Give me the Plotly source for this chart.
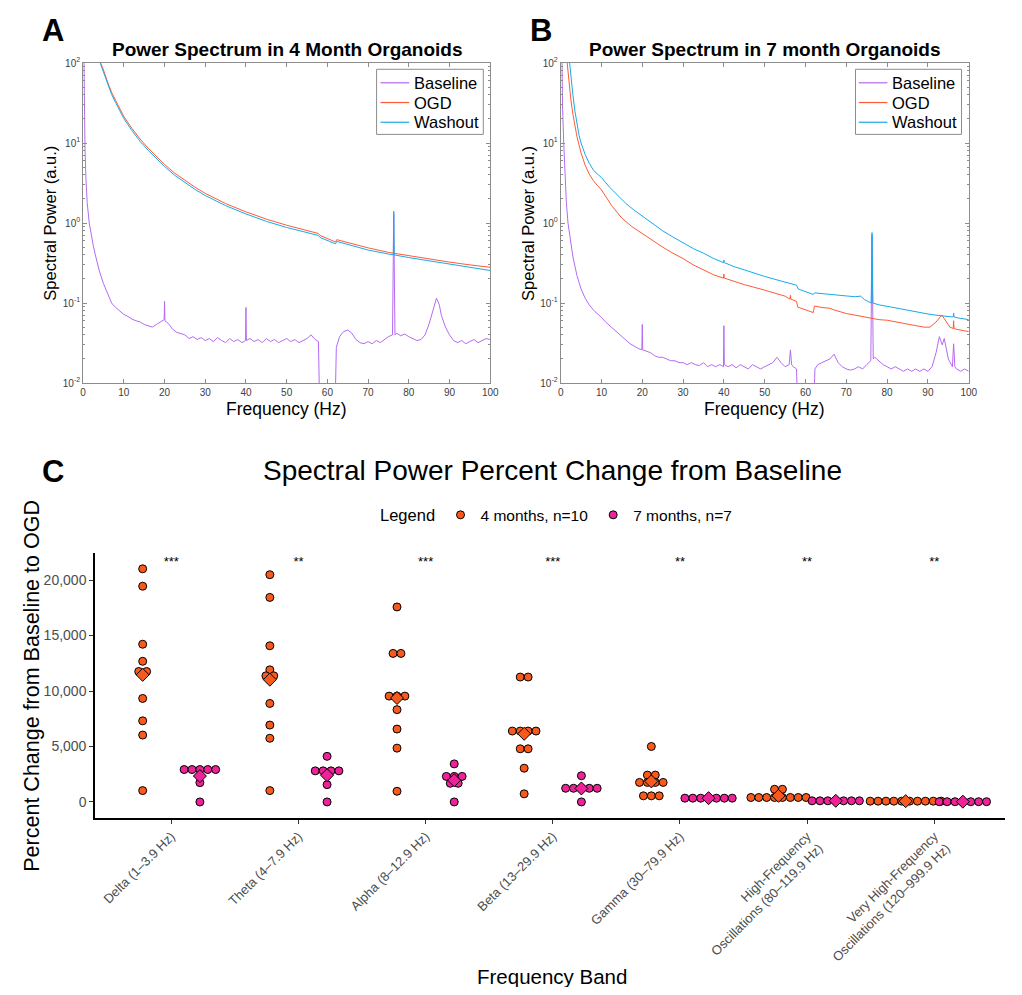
import numpy as np
import plotly.graph_objects as go

# ---------------- panel A : 4 month organoids ----------------
freq_a_base = [0.2, 0.3, 0.45, 0.7, 1.0, 1.5, 2.0, 2.5, 3, 4, 5, 6, 7, 8, 9, 10, 11, 12, 13, 14, 15, 16, 17, 18, 19,
               19.9, 20, 20.1, 21, 22, 23, 24, 25, 26, 27, 28, 29, 30, 31, 32, 33, 34, 35, 36, 37, 38, 39, 39.9, 40,
               40.1, 41, 42, 43, 44, 45, 46, 47, 48, 49, 50, 51, 52, 53, 54, 55, 56, 57, 57.8, 58.1, 61.9, 62.2,
               63, 64, 65, 66, 67, 68, 69, 70, 71, 72, 73, 74, 75, 76, 76.3, 76.6, 77, 78, 79, 80, 81, 82, 83, 84,
               85, 86, 86.8, 87.5, 88, 89, 90, 91, 92, 93, 94, 95, 96, 97, 98, 99, 100]
pow_a_base = [120, 30, 9, 3.5, 1.8, 1.0, 0.7, 0.52, 0.40, 0.25, 0.175, 0.13, 0.10, 0.088, 0.079, 0.072, 0.068, 0.063,
              0.060, 0.058, 0.054, 0.052, 0.050, 0.054, 0.058, 0.062, 0.105, 0.060, 0.055, 0.047, 0.043, 0.041,
              0.040, 0.036, 0.038, 0.035, 0.037, 0.034, 0.036, 0.033, 0.037, 0.034, 0.032, 0.036, 0.033, 0.035,
              0.032, 0.034, 0.088, 0.034, 0.036, 0.033, 0.035, 0.032, 0.036, 0.033, 0.035, 0.032, 0.034, 0.036,
              0.033, 0.035, 0.032, 0.034, 0.036, 0.040, 0.035, 0.033, 0.005, 0.005, 0.028, 0.038, 0.044, 0.046,
              0.042, 0.035, 0.032, 0.031, 0.033, 0.031, 0.034, 0.032, 0.035, 0.038, 0.040, 1.3, 0.040, 0.042,
              0.039, 0.041, 0.038, 0.036, 0.034, 0.035, 0.040, 0.055, 0.085, 0.115, 0.095, 0.070, 0.050, 0.040,
              0.034, 0.032, 0.034, 0.031, 0.033, 0.035, 0.032, 0.034, 0.036, 0.035]

freq_a_ogd = [4.3, 5, 6, 7, 8, 9, 10, 12, 14, 16, 18, 20, 22.5, 25, 27.5, 30, 35, 40, 45, 50, 55, 57.8, 58.2, 62,
              62.3, 65, 70, 75, 80, 85, 90, 95, 100]
pow_a_ogd = [100, 82, 58, 43, 34, 27, 21.5, 15.2, 11.2, 8.6, 6.8, 5.4, 4.2, 3.4, 2.8, 2.35, 1.75, 1.38, 1.12, 0.94,
             0.80, 0.74, 0.70, 0.58, 0.62, 0.57, 0.49, 0.43, 0.39, 0.355, 0.325, 0.30, 0.28]

freq_a_wash = [4.2, 5, 6, 7, 8, 9, 10, 12, 14, 16, 18, 20, 22.5, 25, 27.5, 30, 35, 40, 45, 50, 55, 57.8, 58.2, 62,
               62.3, 65, 70, 75, 76.2, 76.3, 76.4, 80, 85, 90, 95, 100]
pow_a_wash = [100, 77, 54.5, 40.4, 32, 25.4, 20.2, 14.3, 10.5, 8.1, 6.4, 5.1, 3.95, 3.2, 2.63, 2.21, 1.65, 1.30,
              1.05, 0.88, 0.75, 0.70, 0.66, 0.55, 0.59, 0.54, 0.46, 0.41, 0.40, 1.4, 0.40, 0.37, 0.335, 0.305,
              0.28, 0.255]

# ---------------- panel B : 7 month organoids ----------------
freq_b_base = [0.3, 0.45, 0.75, 1.0, 1.4, 1.8, 2.5, 3, 4, 5, 6, 7, 8, 9, 10, 11, 12, 13, 14, 15, 16, 17, 18, 19,
               19.9, 20, 20.1, 21, 22, 23, 24, 25, 26, 27, 28, 29, 30, 31, 32, 33, 34, 35, 36, 37, 38, 39, 39.9,
               40, 40.1, 41, 42, 43, 44, 45, 46, 47, 48, 49, 50, 51, 52, 53, 54, 55, 56, 56.3, 56.6, 57, 57.8,
               58.1, 62, 62.3, 63, 64, 65, 66, 67, 68, 69, 70, 71, 72, 73, 74, 75, 76, 76.3, 76.6, 77, 78, 79,
               80, 81, 82, 83, 84, 85, 86, 87, 88, 89, 90, 91, 92, 92.8, 93.5, 94, 95, 96, 96.3, 96.6, 97, 98,
               99, 100]
pow_b_base = [150, 30, 10, 4.5, 1.8, 1.0, 0.55, 0.38, 0.22, 0.15, 0.115, 0.095, 0.082, 0.074, 0.066, 0.058, 0.052,
              0.047, 0.042, 0.038, 0.034, 0.031, 0.029, 0.027, 0.026, 0.054, 0.026, 0.025, 0.024, 0.022, 0.021,
              0.021, 0.020, 0.019, 0.019, 0.018, 0.018, 0.017, 0.018, 0.017, 0.0165, 0.018, 0.016, 0.017, 0.016,
              0.017, 0.016, 0.052, 0.017, 0.016, 0.017, 0.0155, 0.017, 0.016, 0.015, 0.017, 0.016, 0.015, 0.016,
              0.017, 0.018, 0.021, 0.018, 0.016, 0.017, 0.026, 0.017, 0.016, 0.015, 0.004, 0.004, 0.015, 0.017,
              0.018, 0.019, 0.020, 0.023, 0.018, 0.016, 0.015, 0.0145, 0.015, 0.016, 0.015, 0.017, 0.019, 0.70,
              0.020, 0.021, 0.019, 0.017, 0.016, 0.015, 0.016, 0.015, 0.014, 0.015, 0.014, 0.015, 0.014, 0.015,
              0.014, 0.016, 0.024, 0.038, 0.030, 0.036, 0.020, 0.016, 0.031, 0.016, 0.015, 0.014, 0.015, 0.014]

freq_b_ogd = [1.6, 2, 2.5, 3, 3.5, 4, 5, 6, 7, 8, 9, 10, 12.5, 15, 17.5, 20, 22.5, 25, 27.5, 30, 32.5, 35, 37.5,
              39.9, 40, 40.1, 45, 50, 55, 56.2, 56.3, 56.4, 57.8, 58.1, 61.9, 62.2, 64, 66, 67, 70, 72, 75, 78,
              80, 82.5, 85, 87.5, 89, 90.5, 92, 93.4, 94, 95.4, 96.2, 96.3, 96.4, 97, 100]
pow_b_ogd = [100, 58, 35, 23, 16.5, 12, 7.5, 5.3, 4.1, 3.4, 2.95, 2.6, 1.65, 1.15, 0.90, 0.74, 0.60, 0.50, 0.42,
             0.36, 0.30, 0.26, 0.225, 0.205, 0.23, 0.205, 0.17, 0.145, 0.122, 0.112, 0.125, 0.112, 0.105, 0.089,
             0.076, 0.092, 0.088, 0.086, 0.082, 0.074, 0.071, 0.066, 0.062, 0.061, 0.058, 0.055, 0.052, 0.050,
             0.050, 0.058, 0.071, 0.064, 0.050, 0.048, 0.060, 0.048, 0.047, 0.044]

freq_b_wash = [2.2, 2.6, 3, 3.5, 4, 4.5, 5, 6, 7, 8, 9, 10, 12, 14, 16, 18, 20, 22.5, 25, 27.5, 30, 32.5, 35, 37.5,
               39.9, 40, 40.1, 42.5, 45, 47.5, 50, 52.5, 55, 57.8, 58.2, 61.9, 62.2, 65, 68, 70, 72, 73.5, 74.5,
               76.1, 76.3, 76.5, 78, 80, 82.5, 85, 87.5, 90, 92.5, 95, 96.2, 96.3, 96.4, 97.5, 100]
pow_b_wash = [100, 60, 40, 25, 17, 12.5, 10, 7.2, 5.6, 4.6, 4.1, 3.7, 2.8, 2.2, 1.75, 1.45, 1.22, 0.98, 0.80, 0.67,
              0.57, 0.48, 0.42, 0.36, 0.32, 0.345, 0.32, 0.285, 0.26, 0.235, 0.215, 0.198, 0.183, 0.167, 0.150,
              0.128, 0.134, 0.130, 0.124, 0.121, 0.120, 0.122, 0.110, 0.100, 0.76, 0.100, 0.095, 0.091, 0.086,
              0.080, 0.076, 0.073, 0.070, 0.068, 0.067, 0.075, 0.067, 0.065, 0.062]

# ---------------- panel C : percent change from baseline ----------------
bands = ["Delta (1–3.9 Hz)", "Theta (4–7.9 Hz)", "Alpha (8–12.9 Hz)", "Beta (13–29.9 Hz)",
         "Gamma (30–79.9 Hz)", "High-Frequency<br>Oscillations (80–119.9 Hz)",
         "Very High-Frequency<br>Oscillations (120–999.9 Hz)"]
stars = ["***", "**", "***", "***", "**", "**", "**"]

delta_4m = [21020, 19450, 14220, 12680, 11760, 11760, 9330, 7310, 6030, 1020]
theta_4m = [20490, 18440, 14080, 11910, 11370, 11370, 8880, 6930, 5740, 1020]
alpha_4m = [17580, 13390, 13390, 9540, 9540, 9540, 8320, 6570, 4850, 960]
beta_4m = [11260, 11260, 6390, 6390, 6390, 6390, 4790, 4790, 3040, 730]
gamma_4m = [5000, 2420, 2420, 1760, 1760, 1760, 1760, 550, 550, 550]
hfo_4m = [1140, 1140, 400, 400, 400, 400, 400, 400, 400, 400]
vhfo_4m = [70, 70, 70, 70, 70, 70, 70, 70, 70, 70]

delta_7m = [2920, 2920, 2920, 2920, 2920, 1740, 0]
theta_7m = [4110, 2800, 2800, 2800, 2800, 1560, 0]
alpha_7m = [3430, 2300, 2300, 2300, 1680, 1680, 0]
beta_7m = [2360, 1230, 1230, 1230, 1230, 1230, 0]
gamma_7m = [340, 340, 340, 340, 340, 340, 340]
hfo_7m = [100, 100, 100, 100, 100, 100, 100]
vhfo_7m = [20, 20, 20, 20, 20, 20, 20]

groups_4m = [delta_4m, theta_4m, alpha_4m, beta_4m, gamma_4m, hfo_4m, vhfo_4m]
groups_7m = [delta_7m, theta_7m, alpha_7m, beta_7m, gamma_7m, hfo_7m, vhfo_7m]

FONT = "Liberation Sans, Arial, Helvetica, sans-serif"
c_base, c_ogd, c_wash = "#B36BF2", "#FF5A36", "#18A9E8"
c_4m, c_7m = "#F85A1E", "#EE2399"
# page body keeps its 8px margin, so the figure is made 16px smaller than the window
PAD = 8
W, H = 1022 - 2 * PAD, 995 - 2 * PAD


def px_x(p):
    return min(max((p - PAD) / W, 0), 1)


def px_y(p):
    return min(max(1 - (p - PAD) / H, 0), 1)


def swarm(vals, center, step=0.062):
    # spread tied values side by side, like a beeswarm
    vals = np.asarray(vals)
    xs = np.zeros(len(vals))
    for v in np.unique(vals):
        idx = np.where(vals == v)[0]
        xs[idx] = center + (np.arange(len(idx)) - (len(idx) - 1) / 2) * step
    return xs


fig = go.Figure()

# spectra
spectra = [
    (freq_a_base, pow_a_base, "Baseline", c_base, "x", "y"),
    (freq_a_ogd, pow_a_ogd, "OGD", c_ogd, "x", "y"),
    (freq_a_wash, pow_a_wash, "Washout", c_wash, "x", "y"),
    (freq_b_base, pow_b_base, "Baseline", c_base, "x2", "y2"),
    (freq_b_ogd, pow_b_ogd, "OGD", c_ogd, "x2", "y2"),
    (freq_b_wash, pow_b_wash, "Washout", c_wash, "x2", "y2"),
]
for f, p, name, col, xa, ya in spectra:
    fig.add_trace(go.Scatter(x=f, y=p, mode="lines", name=name, line=dict(color=col, width=1),
                             xaxis=xa, yaxis=ya, showlegend=False))

# dot plot
for groups, col, off, name in [(groups_4m, c_4m, -0.225, "4 months, n=10"),
                               (groups_7m, c_7m, 0.225, "7 months, n=7")]:
    xs, ys = [], []
    for i, g in enumerate(groups):
        xs.extend(swarm(g, i + off))
        ys.extend(g)
    fig.add_trace(go.Scatter(x=xs, y=ys, mode="markers", name=name, xaxis="x3", yaxis="y3",
                             marker=dict(size=8, color=col, line=dict(color="black", width=1))))

for groups, col, off in [(groups_4m, c_4m, -0.225), (groups_7m, c_7m, 0.225)]:
    fig.add_trace(go.Scatter(x=[i + off for i in range(len(groups))], y=[np.mean(g) for g in groups],
                             mode="markers", showlegend=False, xaxis="x3", yaxis="y3",
                             marker=dict(symbol="diamond", size=10, color=col,
                                         line=dict(color="black", width=1))))

fig.add_trace(go.Scatter(x=list(range(len(bands))), y=[21600] * len(bands), mode="text", text=stars,
                         textfont=dict(size=13, color="black", family=FONT), showlegend=False,
                         xaxis="x3", yaxis="y3"))

box_axis = dict(showline=True, linecolor="#8c8c8c", linewidth=1, mirror="ticks", ticks="inside",
                ticklen=4, tickcolor="#8c8c8c", showgrid=False, zeroline=False,
                tickfont=dict(size=10, color="#404040", family=FONT))
log_vals = [0.01, 0.1, 1, 10, 100]
log_text = ["10<sup>-2</sup>", "10<sup>-1</sup>", "10<sup>0</sup>", "10<sup>1</sup>", "10<sup>2</sup>"]
log_minor = [m * 10.0 ** e for e in range(-2, 2) for m in range(2, 10)]
minor_ax = dict(tickmode="array", tickvals=log_minor, ticks="inside", ticklen=2, tickcolor="#8c8c8c",
                showgrid=False)

y_top, y_bot = 56.7, 381

# panel C category axis: left edge at 93px = -0.6, 128.7px per band; right edge clipped to page
c_left, c_right, c_unit = 93, 1014, 128.7
c_hi = -0.6 + (c_right - c_left) / c_unit

fig.update_layout(
    width=W, height=H, margin=dict(l=0, r=0, t=0, b=0),
    paper_bgcolor="white", plot_bgcolor="white",
    font=dict(family=FONT),
    xaxis=dict(box_axis, domain=[px_x(81), px_x(493)], range=[0, 100], dtick=10, anchor="y"),
    yaxis=dict(box_axis, type="log", domain=[px_y(y_bot), px_y(y_top)], range=[-2, 2], tickvals=log_vals,
               ticktext=log_text, anchor="x", minor=minor_ax),
    xaxis2=dict(box_axis, domain=[px_x(564.3), px_x(977.3)], range=[0, 100], dtick=10, anchor="y2"),
    yaxis2=dict(box_axis, type="log", domain=[px_y(y_bot), px_y(y_top)], range=[-2, 2], tickvals=log_vals,
                ticktext=log_text, anchor="x2", minor=minor_ax),
    xaxis3=dict(domain=[px_x(c_left), px_x(c_right)], range=[-0.6, c_hi], tickvals=list(range(len(bands))),
                ticktext=bands, tickangle=-45, showline=True, linecolor="black", linewidth=1.5,
                ticks="outside", ticklen=4, tickcolor="#333333", showgrid=False, zeroline=False,
                tickfont=dict(size=13, color="#4d4d4d", family=FONT), anchor="y3"),
    yaxis3=dict(domain=[px_y(821.7), px_y(553.3)], range=[-1440, 22440], tickvals=[0, 5000, 10000, 15000, 20000],
                tickformat=",", showline=True, linecolor="black", linewidth=1.5, ticks="outside", ticklen=4,
                tickcolor="#333333", showgrid=False, zeroline=False,
                tickfont=dict(size=14, color="#4d4d4d", family=FONT), anchor="x3"),
    legend=dict(orientation="h", x=px_x(593), xanchor="center", y=px_y(515), yanchor="middle",
                font=dict(size=15.5, family=FONT, color="black")),
)

# MATLAB style legend boxes for the two spectra panels
for bx0, bx1, lx0, lx1, tx in [(378, 486, 382, 411, 414), (862.7, 970, 866, 895, 898)]:
    fig.add_shape(type="rect", xref="paper", yref="paper", x0=px_x(bx0), x1=px_x(bx1), y0=px_y(129),
                  y1=px_y(63), line=dict(color="#8c8c8c", width=1), fillcolor="white", layer="above")
    for k, (name, col) in enumerate([("Baseline", c_base), ("OGD", c_ogd), ("Washout", c_wash)]):
        yy = 76.7 + 20 * k
        fig.add_shape(type="line", xref="paper", yref="paper", x0=px_x(lx0), x1=px_x(lx1), y0=px_y(yy),
                      y1=px_y(yy), line=dict(color=col, width=1.2), layer="above")
        fig.add_annotation(text=name, x=px_x(tx), y=px_y(yy), xref="paper", yref="paper", showarrow=False,
                           xanchor="left", yanchor="middle", font=dict(size=16.5, color="black", family=FONT))

ann = [
    dict(text="<b>A</b>", x=51, y=24, size=31),
    dict(text="<b>B</b>", x=544, y=24, size=31),
    dict(text="<b>C</b>", x=51, y=471, size=31),
    dict(text="<b>Power Spectrum in 4 Month Organoids</b>", x=287, y=43, size=19),
    dict(text="<b>Power Spectrum in 7 month Organoids</b>", x=771, y=43, size=19),
    dict(text="Frequency (Hz)", x=287, y=407, size=17.5),
    dict(text="Frequency (Hz)", x=771, y=407, size=17.5),
    dict(text="Spectral Power (a.u.)", x=48, y=219, size=16.5, angle=-90),
    dict(text="Spectral Power (a.u.)", x=531, y=219, size=16.5, angle=-90),
    dict(text="Spectral Power Percent Change from Baseline", x=556, y=470, size=28),
    dict(text="Legend", x=409.5, y=515, size=16.5),
    dict(text="Frequency Band", x=556, y=982, size=20.5),
    dict(text="Percent Change from Baseline to OGD", x=29, y=688, size=21.5, angle=-90),
]
for a in ann:
    fig.add_annotation(text=a["text"], x=px_x(a["x"]), y=px_y(a["y"]), xref="paper", yref="paper",
                       showarrow=False, xanchor="center", yanchor="middle", textangle=a.get("angle", 0),
                       font=dict(size=a["size"], color="black", family=FONT))

fig.write_html("out.html")
